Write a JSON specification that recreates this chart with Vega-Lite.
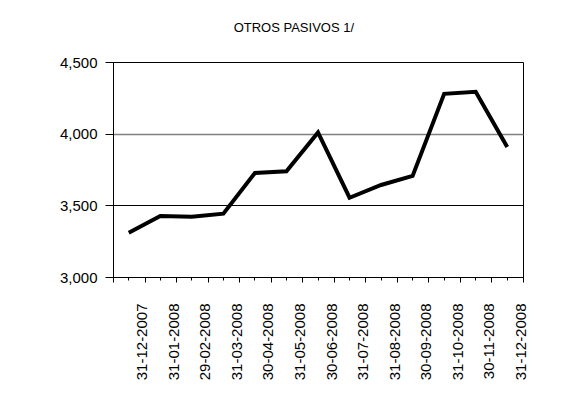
{
  "$schema": "https://vega.github.io/schema/vega-lite/v6.json",
  "autosize": "none",
  "width": 410,
  "height": 215,
  "padding": {"left": 113, "top": 62, "right": 50, "bottom": 126},
  "background": "white",
  "title": {
    "text": "OTROS PASIVOS 1/",
    "font": "Liberation Sans",
    "fontSize": 13,
    "fontWeight": "normal",
    "color": "#000000",
    "anchor": "middle",
    "frame": "bounds",
    "offset": 20
  },
  "data": {
    "values": [
      {"fecha": "31-12-2007", "valor": 3309},
      {"fecha": "31-01-2008", "valor": 3425},
      {"fecha": "29-02-2008", "valor": 3421},
      {"fecha": "31-03-2008", "valor": 3442},
      {"fecha": "30-04-2008", "valor": 3726},
      {"fecha": "31-05-2008", "valor": 3737},
      {"fecha": "30-06-2008", "valor": 4009},
      {"fecha": "31-07-2008", "valor": 3553},
      {"fecha": "31-08-2008", "valor": 3642},
      {"fecha": "30-09-2008", "valor": 3705},
      {"fecha": "31-10-2008", "valor": 4278},
      {"fecha": "30-11-2008", "valor": 4292},
      {"fecha": "31-12-2008", "valor": 3907}
    ]
  },
  "layer": [
    {
      "mark": {"type": "line", "color": "#000000", "strokeWidth": 4, "strokeJoin": "miter", "strokeCap": "butt"},
      "encoding": {
        "x": {
          "field": "fecha", "type": "nominal", "sort": null,
          "scale": {"paddingInner": 0, "paddingOuter": 0},
          "axis": {
            "title": null,
            "orient": "bottom",
            "tickBand": "extent",
            "labelAngle": -90,
            "labelFont": "Liberation Sans",
            "labelFontSize": 15,
            "labelColor": "#000000",
            "labelPadding": 21,
            "labelOffset": 13,
            "tickSize": 5,
            "tickColor": "#000000",
            "domainColor": "#000000",
            "grid": false
          }
        },
        "y": {
          "field": "valor", "type": "quantitative",
          "scale": {"domain": [3000, 4500], "nice": false, "zero": false},
          "axis": {
            "title": null,
            "values": [3000, 3250, 3500, 3750, 4000, 4250, 4500],
            "format": ",d",
            "labelExpr": "datum.value % 500 === 0 ? datum.label : ''",
            "labelFont": "Liberation Sans",
            "labelFontSize": 15,
            "labelColor": "#000000",
            "labelPadding": 8,
            "tickColor": "#000000",
            "tickSize": {"condition": {"test": "datum.value % 500 === 0", "value": 8}, "value": 3},
            "domainColor": "#000000",
            "grid": true,
            "gridColor": {"condition": {"test": "datum.value === 4000", "value": "#808080"}, "value": "#000000"},
            "gridWidth": {"condition": {"test": "datum.value === 4000", "value": 1.5}, "value": 1},
            "gridOpacity": {"condition": {"test": "datum.value === 3500 || datum.value === 4000", "value": 1}, "value": 0}
          }
        }
      }
    },
    {
      "mark": {"type": "line", "opacity": 0},
      "encoding": {
        "x": {
          "field": "fecha", "type": "nominal", "sort": null,
          "axis": {
            "title": null,
            "orient": "bottom",
            "labels": false,
            "domain": false,
            "grid": false,
            "tickBand": "center",
            "tickSize": 3,
            "tickColor": "#000000"
          }
        },
        "y": {"field": "valor", "type": "quantitative"}
      }
    }
  ],
  "resolve": {"axis": {"x": "independent"}},
  "config": {
    "view": {"stroke": "#000000", "strokeWidth": 1}
  }
}
